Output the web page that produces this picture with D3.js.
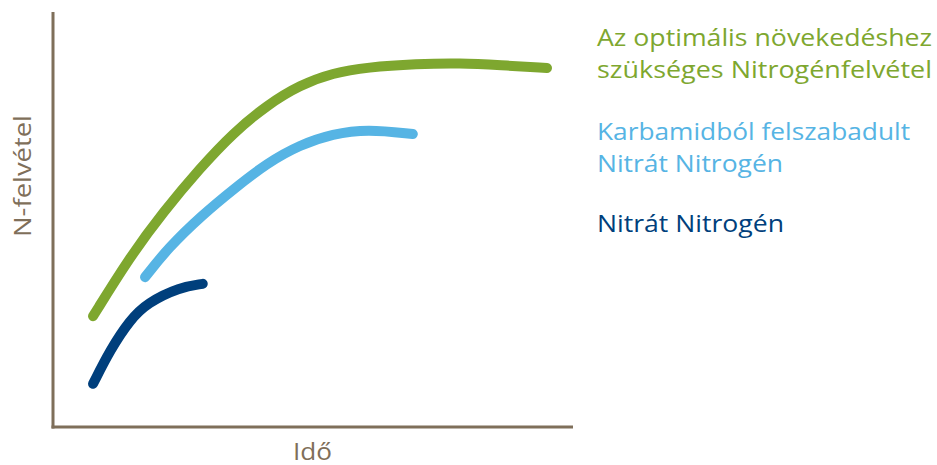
<!DOCTYPE html>
<html>
<head>
<meta charset="utf-8">
<script src="https://cdn.jsdelivr.net/npm/d3@7"></script>
<style>
  body { margin: 0; background: #fff; }
  svg { display: block; font-family: 'Open Sans', sans-serif; }
</style>
</head>
<body>
<svg id="chart" width="937" height="465"></svg>
<script>
// time (0-100) and N uptake (0-100)
const greenX = [7.7, 14.8, 21.2, 28.3, 34.6, 41.2, 47.5, 53.8, 60.4, 70.0, 78.3, 86.0, 95.0]
const greenY = [26.7, 41.0, 51.8, 62.4, 70.8, 77.6, 82.4, 85.3, 86.7, 87.5, 87.7, 87.2, 86.5]
const lightX = [17.7, 22.1, 28.7, 35.0, 41.2, 47.5, 53.8, 60.4, 69.2]
const lightY = [36.1, 43.1, 51.1, 57.6, 63.6, 68.0, 70.6, 71.8, 70.6]
const darkX = [7.7, 11.0, 14.8, 18.1, 24.4, 28.8]
const darkY = [10.4, 18.6, 25.8, 29.9, 33.7, 34.5]

const legendLines = [
  ['Az optimális növekedéshez', 'szükséges Nitrogénfelvétel'],
  ['Karbamidból felszabadult', 'Nitrát Nitrogén'],
  ['Nitrát Nitrogén']
]
const colors = ['#7ea72f', '#56b4e4', '#003f7c']
const axisColor = '#7f6f5a'

const svg = d3.select('#chart')
const x = d3.scaleLinear().domain([0, 100]).range([53, 573])
const y = d3.scaleLinear().domain([0, 100]).range([427, 12])

// axes: plain lines, no ticks
svg.append('line')
  .attr('x1', x(0)).attr('x2', x(0))
  .attr('y1', y(100)).attr('y2', y(0) + 1.5)
  .attr('stroke', axisColor).attr('stroke-width', 3)
svg.append('line')
  .attr('x1', x(0) - 1.5).attr('x2', x(100))
  .attr('y1', y(0)).attr('y2', y(0))
  .attr('stroke', axisColor).attr('stroke-width', 3)

svg.append('text')
  .attr('x', 293).attr('y', 460)
  .attr('font-size', 24)
  .attr('textLength', 39)
  .attr('lengthAdjust', 'spacingAndGlyphs')
  .attr('fill', axisColor)
  .text('Idő')

svg.append('text')
  .attr('transform', 'translate(31,237) rotate(-90)')
  .attr('font-size', 24)
  .attr('textLength', 122)
  .attr('lengthAdjust', 'spacingAndGlyphs')
  .attr('fill', axisColor)
  .text('N-felvétel')

const series = [
  d3.zip(greenX, greenY),
  d3.zip(lightX, lightY),
  d3.zip(darkX, darkY)
]

const line = d3.line()
  .x(d => x(d[0]))
  .y(d => y(d[1]))
  .curve(d3.curveBasis)

svg.append('g')
  .selectAll('path')
  .data(series)
  .join('path')
  .attr('d', line)
  .attr('fill', 'none')
  .attr('stroke', (d, i) => colors[i])
  .attr('stroke-width', 10)
  .attr('stroke-linecap', 'round')

// legend text on the right
const baselines = [[46, 78], [140, 172], [232]]
const widths = [[335, 335], [313, 186], [187]]
const legend = svg.append('g')
legendLines.forEach((lines, i) => {
  lines.forEach((t, j) => {
    legend.append('text')
      .attr('x', 597)
      .attr('y', baselines[i][j])
      .attr('font-size', 24)
      .attr('textLength', widths[i][j])
      .attr('lengthAdjust', 'spacingAndGlyphs')
      .attr('fill', colors[i])
      .text(t)
  })
})
</script>
</body>
</html>
